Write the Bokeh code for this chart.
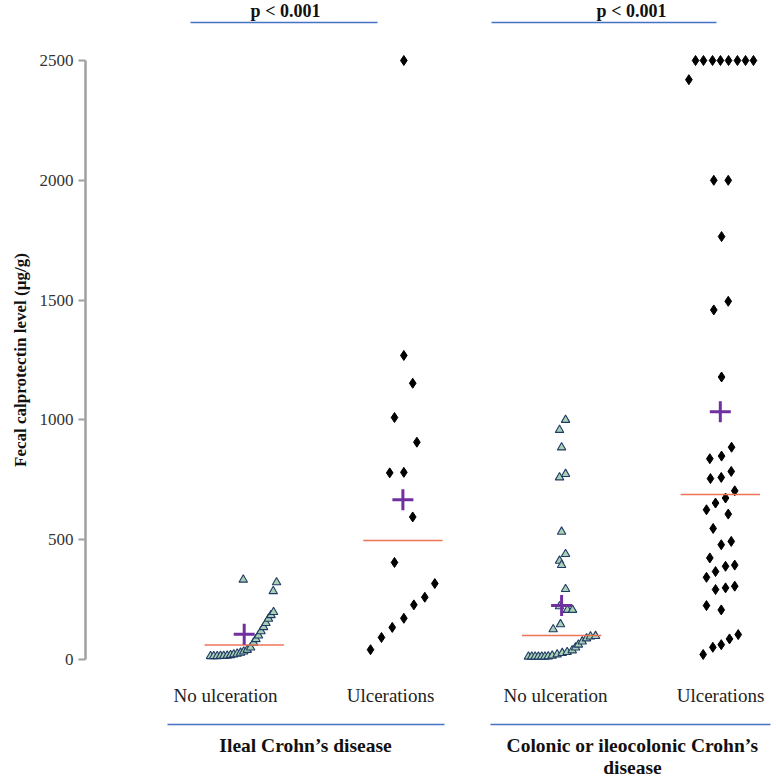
from bokeh.plotting import figure
from bokeh.models import Range1d, FixedTicker, ColumnDataSource, Title
from bokeh.embed import file_html
from bokeh.resources import INLINE
from bokeh.core.properties import value

# ---------------- data ----------------
categories = ["No ulceration", "Ulcerations", "No ulceration", "Ulcerations"]
group_names = ["Ileal Crohn\u2019s disease", "Colonic or ileocolonic Crohn\u2019s", "disease"]
p_values = ["p < 0.001", "p < 0.001"]
y_ticks = [0, 500, 1000, 1500, 2000, 2500]
y_title = "Fecal calprotectin level (\u00b5g/g)"

# Ileal CD, no ulceration (triangles): values and horizontal spread (category units)
ileal_no_vals = [14, 14, 14, 15, 15, 16, 18, 21, 24, 28, 33, 40, 50,
                 70, 85, 100, 118, 135, 152, 170, 185, 198, 285, 322, 333]
ileal_no_off = [-0.212, -0.192, -0.170, -0.149, -0.129, -0.107, -0.086, -0.066, -0.044,
                -0.023, -0.003, 0.019, 0.040, 0.059, 0.074, 0.090, 0.106, 0.122, 0.137,
                0.153, 0.169, 0.185, 0.183, 0.204, -0.006]

# Ileal CD, ulcerations (diamonds)
ileal_ulc_vals = [2500, 1269, 1153, 1010, 907, 779, 781, 595, 405, 317, 260, 228, 172, 134, 92, 41]
ileal_ulc_off = [0.006, 0.006, 0.062, -0.053, 0.088, -0.083, 0.006, 0.062, -0.053,
                 0.201, 0.138, 0.069, 0.006, -0.067, -0.135, -0.204]

# Colonic / ileocolonic CD, no ulceration (triangles)
colon_no_vals = [1000, 958, 885, 774, 760, 533, 440, 412, 394, 294, 222, 207, 207, 147, 126,
                 12, 12, 12, 12, 12, 12, 13, 16, 21, 27, 31, 38, 50, 62, 75, 88, 96, 98]
colon_no_off = [0.025, -0.013, 0.000, 0.025, -0.013, 0.000, 0.025, -0.013, 0.000, 0.025,
                -0.013, 0.037, 0.069, -0.007, -0.053,
                -0.209, -0.188, -0.167, -0.146, -0.125, -0.105, -0.084, -0.059, -0.028,
                0.004, 0.035, 0.067, 0.088, 0.106, 0.130, 0.157, 0.182, 0.214]

# Colonic / ileocolonic CD, ulcerations (diamonds)
colon_ulc_vals = [2500, 2500, 2500, 2500, 2500, 2500, 2500, 2500, 2420, 2000, 2000, 1765,
                  1495, 1459, 1179, 886, 849, 838, 785, 760, 755, 704, 674, 653, 625, 607,
                  547, 493, 479, 424, 394, 389, 367, 343, 306, 299, 292, 225, 207,
                  104, 86, 62, 51, 21]
colon_ulc_off = [-0.156, -0.106, -0.049, 0.001, 0.052, 0.108, 0.159, 0.209, -0.198, -0.041,
                 0.050, 0.008, 0.050, -0.041, 0.008, 0.071, 0.008, -0.066, 0.069, 0.006,
                 -0.062, 0.091, 0.033, -0.030, -0.087, 0.050, -0.045, 0.069, 0.006, -0.066,
                 0.091, 0.033, -0.030, -0.087, 0.091, 0.033, -0.030, -0.087, 0.006,
                 0.113, 0.058, 0.006, -0.047, -0.108]

means = [105, 667, 225, 1034]
medians = [60, 497, 100, 689]

# ---------------- layout ----------------
W, H = 776, 778
LEFT = 85
PX_PER_CAT = 158.7
PX_PER_UNIT = 0.2396          # vertical pixels per µg/g
ZERO_Y = 659                  # pixel row of value 0 (from figure top)
y_end = ZERO_Y / PX_PER_UNIT
y_start = (ZERO_Y - H) / PX_PER_UNIT
x_end = (W - LEFT) / PX_PER_CAT


def row(px_y):
    return (ZERO_Y - px_y) / PX_PER_UNIT


def col(px_x):
    return (px_x - LEFT) / PX_PER_CAT


SERIF = value("Liberation Serif")

p = figure(width=W, height=H, output_backend="svg", toolbar_location=None,
           x_range=Range1d(0, x_end), y_range=Range1d(y_start, y_end),
           x_axis_location=None, min_border_left=LEFT, min_border_right=0,
           min_border_top=0, min_border_bottom=0)
p.outline_line_color = None
p.grid.visible = False
p.background_fill_color = "white"
p.border_fill_color = "white"

ax = p.yaxis[0]
ax.ticker = FixedTicker(ticks=y_ticks)
ax.bounds = (0, 2500)
ax.axis_line_color = "#a0a0a0"
ax.axis_line_width = 2.5
ax.major_tick_line_color = "#a0a0a0"
ax.major_tick_line_width = 2
ax.major_tick_out = 7
ax.major_tick_in = 0
ax.minor_tick_line_color = None
ax.major_label_text_font = "Liberation Serif"
ax.major_label_text_font_size = "17px"
ax.major_label_text_color = "#333333"
ax.major_label_standoff = 5

# axis title, placed so that it is centred on the 0-2500 span (text starts near value -100)
TITLE_LEN = 214
p.add_layout(Title(text=y_title, align="left",
                   offset=H - (ZERO_Y - 1250 * PX_PER_UNIT) - TITLE_LEN / 2,
                   text_font="Liberation Serif", text_font_style="bold",
                   text_font_size="17px", text_color="#111111", standoff=14), "left")

TRI_FILL = "#a9d0b4"
TRI_LINE = "#1f3b63"


def pts(vals, offs, cat):
    return ColumnDataSource(dict(x=[cat + o for o in offs], y=vals))


p.scatter("x", "y", source=pts(ileal_no_vals, ileal_no_off, 1), marker="triangle",
          size=8.5, fill_color=TRI_FILL, line_color=TRI_LINE, line_width=1.1)
p.scatter("x", "y", source=pts(colon_no_vals, colon_no_off, 3), marker="triangle",
          size=8.5, fill_color=TRI_FILL, line_color=TRI_LINE, line_width=1.1)
p.scatter("x", "y", source=pts(ileal_ulc_vals, ileal_ulc_off, 2), marker="diamond",
          size=10, fill_color="black", line_color="black")
p.scatter("x", "y", source=pts(colon_ulc_vals, colon_ulc_off, 4), marker="diamond",
          size=10, fill_color="black", line_color="black")

cats_x = [1, 2, 3, 4]
# median lines
p.segment(x0=[c - 0.25 for c in cats_x], x1=[c + 0.25 for c in cats_x],
          y0=medians, y1=medians, line_color="#ee7457", line_width=1.5)
# mean crosses
p.scatter(x=cats_x, y=means, marker="cross", size=21, line_color="#7030a0", line_width=3)

# category labels
label_x = [col(225), col(390), col(555), col(720)]
p.text(x=label_x, y=[row(695)] * 4, text=categories, text_font=SERIF, text_font_size="19px",
       text_align="center", text_baseline="middle", text_color="#222222")

# group brackets
p.segment(x0=[col(167), col(490)], x1=[col(444), col(770)], y0=[row(724)] * 2,
          y1=[row(724)] * 2, line_color="#4472c4", line_width=1.6)
p.text(x=[col(305), col(632), col(632)], y=[row(745), row(745), row(767)], text=group_names,
       text_font=SERIF, text_font_style="bold", text_font_size="19.5px", text_align="center",
       text_baseline="middle", text_color="#111111")

# p-value brackets
p.segment(x0=[col(190), col(491)], x1=[col(377), col(716)], y0=[row(22)] * 2,
          y1=[row(22)] * 2, line_color="#4472c4", line_width=1.6)
p.text(x=[col(285), col(631)], y=[row(10)] * 2, text=p_values, text_font=SERIF,
       text_font_style="bold", text_font_size="18px", text_align="center",
       text_baseline="middle", text_color="#111111")

open("out.html", "w").write(file_html(p, INLINE))
